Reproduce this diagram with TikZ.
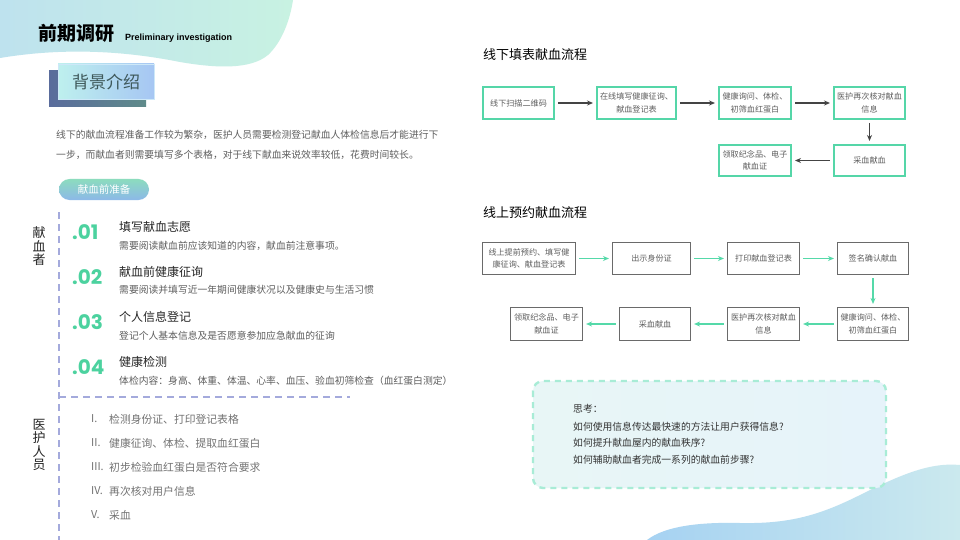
\documentclass[tikz,border=0pt]{standalone}
\usepackage{fontspec}
\setmainfont{Noto Sans CJK SC}
\newfontfamily\latinb{Liberation Sans}
\newfontfamily\numfont{Poppins}
\usetikzlibrary{arrows.meta}
\definecolor{tlA}{HTML}{BEE2EE}
\definecolor{tlB}{HTML}{C8F2E2}
\definecolor{brA}{HTML}{A6D2F2}
\definecolor{brB}{HTML}{CBE9EE}
\definecolor{gborder}{HTML}{55D6A8}
\definecolor{garrow}{HTML}{55D9A9}
\definecolor{numgreen}{HTML}{4CD29F}
\definecolor{lav}{HTML}{A4AADC}
\definecolor{grayborder}{HTML}{6A6A6A}
\definecolor{txtgray}{HTML}{5E5E5E}
\definecolor{darkarrow}{HTML}{444444}
\definecolor{shA}{HTML}{5A6C9C}
\definecolor{shB}{HTML}{5F8B8A}
\definecolor{frA}{HTML}{BEF0EE}
\definecolor{frB}{HTML}{A6C6F3}
\definecolor{frEdge}{HTML}{CDE8F8}
\definecolor{bgText}{HTML}{3E585A}
\definecolor{pillA}{HTML}{8CDCBE}
\definecolor{pillB}{HTML}{8CB8E8}
\definecolor{thA}{HTML}{E8F6F6}
\definecolor{thB}{HTML}{E6F3FA}
\definecolor{thEdge}{HTML}{A8ECD6}
\tikzset{
  gbox/.style={draw=gborder, line width=2pt, fill=white, minimum height=32pt, align=center, text=txtgray, font=\fontsize{8.1}{12.5}\selectfont, inner sep=1pt},
  kbox/.style={draw=grayborder, line width=1.1pt, fill=white, minimum height=32pt, align=center, text=txtgray, font=\fontsize{8.1}{12.5}\selectfont, inner sep=1pt},
  darr/.style={draw=darkarrow, line width=1.2pt, -{Stealth[length=6pt,width=5pt]}, shorten >=3pt, shorten <=3pt},
  garr/.style={draw=garrow, line width=1.2pt, -{Stealth[length=6pt,width=5pt]}, shorten >=3pt, shorten <=3pt},
  numlbl/.style={text=numgreen, font=\numfont\bfseries\fontsize{20}{21}\selectfont, anchor=west, inner sep=0pt},
  ititle/.style={text=black!85, font=\fontsize{12}{14}\selectfont, anchor=west, inner sep=0pt},
  idesc/.style={text=txtgray, font=\fontsize{9.8}{12}\selectfont, anchor=west, inner sep=0pt},
  roman/.style={text=black!55, font=\fontsize{10.8}{13}\selectfont, anchor=west, inner sep=0pt},
  vlbl/.style={text=black!85, font=\fontsize{13}{14.5}\selectfont, align=center, inner sep=0pt},
  dashline/.style={draw=lav, line width=1.6pt, dash pattern=on 7pt off 5pt},
  think/.style={text=black!80, font=\fontsize{9.8}{12}\selectfont, anchor=west, inner sep=0pt}
}
\begin{document}
\begin{tikzpicture}[x=1pt,y=-1pt]
\useasboundingbox (0,0) rectangle (960,540);
\fill[white] (0,0) rectangle (960,540);
% decorative blobs
\shade[left color=tlA, right color=tlB] (0,0) -- (293,0) .. controls (290,20) and (282,42) .. (268,55) .. controls (250,70) and (215,68) .. (180,62) .. controls (120,50) and (60,48) .. (0,58) -- cycle;
\shade[left color=brA, right color=brB] (647,540) .. controls (665,526) and (700,522) .. (740,523) .. controls (790,524) and (820,515) .. (860,495) .. controls (900,475) and (930,462) .. (960,465) -- (960,540) -- cycle;
% header
\node[anchor=west, inner sep=0pt, font=\bfseries\fontsize{19}{20}\selectfont] (title) at (38,33) {前期调研};
\node[anchor=west, inner sep=0pt, font=\latinb\bfseries\fontsize{9}{10}\selectfont] (subtitle) at (125,38.5) {Preliminary investigation};
% background intro label
\shade[left color=shA, right color=shB] (49,71) rectangle (146,107);
\shade[left color=frA, right color=frB] (58,64) rectangle (154,99);
\draw[frEdge, line width=0.8pt] (58,64) rectangle (154,99);
\node[text=bgText, font=\fontsize{17}{18}\selectfont, inner sep=0pt] (bg) at (106,82) {背景介绍};
% paragraph
\node[anchor=west, inner sep=0pt, text=txtgray, font=\fontsize{9.8}{12}\selectfont] (p1) at (56,135) {线下的献血流程准备工作较为繁杂，医护人员需要检测登记献血人体检信息后才能进行下};
\node[anchor=west, inner sep=0pt, text=txtgray, font=\fontsize{9.8}{12}\selectfont] (p2) at (56,155) {一步，而献血者则需要填写多个表格，对于线下献血来说效率较低，花费时间较长。};
% pill
\node[top color=pillA, bottom color=pillB, rounded corners=10.5pt, minimum width=90pt, minimum height=21pt, inner sep=0pt, text=white, font=\fontsize{10.5}{12}\selectfont] (pill) at (104,189.5) {献血前准备};
% dashed guides
\coordinate (vtop) at (59,212);
\coordinate (vbot) at (59,540);
\coordinate (hl) at (59,397);
\coordinate (hr) at (350,397);
\draw[dashline] (vtop) -- (vbot);
\draw[dashline] (hl) -- (hr);
% vertical labels
\node[vlbl] (donor) at (39,246.5) {献\\[-1pt]血\\[-1pt]者};
\node[vlbl] (staff) at (39,445) {医\\[-1pt]护\\[-1pt]人\\[-1pt]员};
% donor items
\node[numlbl] (n1) at (72,232) {.01};
\node[ititle] (t1) at (119,227) {填写献血志愿};
\node[idesc] (d1) at (119,246) {需要阅读献血前应该知道的内容，献血前注意事项。};
\node[numlbl] (n2) at (72,277) {.02};
\node[ititle] (t2) at (119,272) {献血前健康征询};
\node[idesc] (d2) at (119,290) {需要阅读并填写近一年期间健康状况以及健康史与生活习惯};
\node[numlbl] (n3) at (72,322) {.03};
\node[ititle] (t3) at (119,317) {个人信息登记};
\node[idesc] (d3) at (119,336) {登记个人基本信息及是否愿意参加应急献血的征询};
\node[numlbl] (n4) at (72,367) {.04};
\node[ititle] (t4) at (119,362) {健康检测};
\node[idesc] (d4) at (119,381) {体检内容：身高、体重、体温、心率、血压、验血初筛检查（血红蛋白测定）};
% staff list
\node[roman] (r1) at (91,419) {I.};
\node[roman] (s1) at (109,419) {检测身份证、打印登记表格};
\node[roman] (r2) at (91,443) {II.};
\node[roman] (s2) at (109,443) {健康征询、体检、提取血红蛋白};
\node[roman] (r3) at (91,467) {III.};
\node[roman] (s3) at (109,467) {初步检验血红蛋白是否符合要求};
\node[roman] (r4) at (91,491) {IV.};
\node[roman] (s4) at (109,491) {再次核对用户信息};
\node[roman] (r5) at (91,515) {V.};
\node[roman] (s5) at (109,515) {采血};
% offline flow
\node[anchor=west, inner sep=0pt, font=\fontsize{13}{15}\selectfont] (h1) at (483,55) {线下填表献血流程};
\node[gbox, minimum width=71pt] (a1) at (518.5,103) {线下扫描二维码};
\node[gbox, minimum width=79pt] (a2) at (636.5,103) {在线填写健康征询、\\献血登记表};
\node[gbox, minimum width=72pt] (a3) at (755,103) {健康询问、体检、\\初筛血红蛋白};
\node[gbox, minimum width=71pt] (a4) at (869.5,103) {医护再次核对献血\\信息};
\node[gbox, minimum width=71pt, minimum height=31pt] (a5) at (869.5,160.5) {采血献血};
\node[gbox, minimum width=72pt, minimum height=31pt] (a6) at (755,160.5) {领取纪念品、电子\\献血证};
\draw[darr] (a1) -- (a2);
\draw[darr] (a2) -- (a3);
\draw[darr] (a3) -- (a4);
\draw[darr] (a4) -- (a5);
\draw[darr] (a5) -- (a6);
% online flow
\node[anchor=west, inner sep=0pt, font=\fontsize{13}{15}\selectfont] (h2) at (483,213) {线上预约献血流程};
\node[kbox, minimum width=93pt] (b1) at (529,258.5) {线上提前预约、填写健\\康征询、献血登记表};
\node[kbox, minimum width=78pt] (b2) at (651.5,258.5) {出示身份证};
\node[kbox, minimum width=72pt] (b3) at (763.5,258.5) {打印献血登记表};
\node[kbox, minimum width=71pt] (b4) at (873,258.5) {签名确认献血};
\node[kbox, minimum width=71pt, minimum height=33pt] (c1) at (873,324) {健康询问、体检、\\初筛血红蛋白};
\node[kbox, minimum width=72pt, minimum height=33pt] (c2) at (763.5,324) {医护再次核对献血\\信息};
\node[kbox, minimum width=71pt, minimum height=33pt] (c3) at (655,324) {采血献血};
\node[kbox, minimum width=72pt, minimum height=33pt] (c4) at (546.5,324) {领取纪念品、电子\\献血证};
\draw[garr] (b1) -- (b2);
\draw[garr] (b2) -- (b3);
\draw[garr] (b3) -- (b4);
\draw[garr] (b4) -- (c1);
\draw[garr] (c1) -- (c2);
\draw[garr] (c2) -- (c3);
\draw[garr] (c3) -- (c4);
% thinking box
\shade[rounded corners=10pt, left color=thA, right color=thB] (533,381) rectangle (886,488);
\draw[rounded corners=10pt, draw=thEdge, line width=2.4pt, dash pattern=on 6pt off 5pt] (533,381) rectangle (886,488);
\node[think] (q0) at (573,409) {思考：};
\node[think] (q1) at (573,427) {如何使用信息传达最快速的方法让用户获得信息?};
\node[think] (q2) at (573,443) {如何提升献血屋内的献血秩序?};
\node[think] (q3) at (573,460) {如何辅助献血者完成一系列的献血前步骤?};
\end{tikzpicture}
\end{document}
